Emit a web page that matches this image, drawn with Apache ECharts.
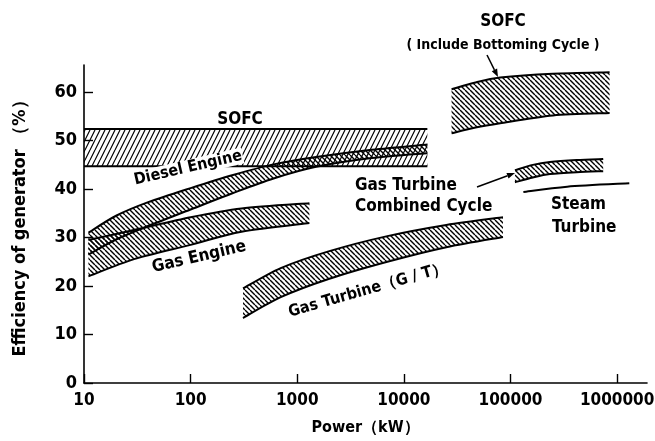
<!DOCTYPE html>
<html><head><meta charset="utf-8">
<script src="https://cdn.jsdelivr.net/npm/echarts@6/dist/echarts.min.js"></script>
<style>html,body{margin:0;padding:0;background:#fff}#c{width:655px;height:441px}</style>
</head><body><div id="c"></div><script>
// ---- data (power in kW, efficiency in %) ----
const xTickValues = [10, 100, 1000, 10000, 100000, 1000000];
const yTickValues = [0, 10, 20, 30, 40, 50, 60];

const sofcX = [10, 16600];
const sofcUpper = [52.4, 52.4];
const sofcLower = [44.7, 44.7];

const dieselX = [11, 20, 40, 100, 250, 600, 1500, 5000, 16600];
const dieselUpper = [31, 34.5, 37.3, 40.2, 42.9, 45.1, 46.6, 48.1, 49.2];
const dieselLower = [26.5, 29.6, 32.4, 35.8, 39.2, 42.2, 44.6, 46.4, 47.4];

const gasEngX = [11, 30, 100, 300, 1300];
const gasEngUpper = [29.5, 31.6, 34.2, 36, 37.1];
const gasEngLower = [22, 25.6, 28.5, 31.2, 33];

const gtX = [310, 700, 2000, 7000, 25000, 85000];
const gtUpper = [19.5, 23.7, 27.2, 30.3, 32.6, 34.2];
const gtLower = [13.4, 17.7, 21.5, 25, 28, 30.1];

const sofcBcX = [28000, 47000, 80000, 250000, 850000];
const sofcBcUpper = [60.6, 62.0, 63.0, 63.8, 64.1];
const sofcBcLower = [51.5, 52.7, 53.6, 55.2, 55.7];

const gtccX = [110000, 162000, 234000, 417000, 740000];
const gtccUpper = [43.9, 45.0, 45.6, 46.0, 46.2];
const gtccLower = [41.4, 42.4, 43.1, 43.5, 43.7];

const steamX = [132000, 340000, 1300000];
const steamY = [39.4, 40.5, 41.2];

// ---- styling helpers ----
const FONT = '"Liberation Sans Narrow","DejaVu Sans Condensed","Noto Sans",sans-serif';

function makeHatch(w, h, dir, lw) {
  const c = document.createElement('canvas');
  c.width = w; c.height = h;
  const ctx = c.getContext('2d');
  ctx.strokeStyle = '#000';
  ctx.lineWidth = lw;
  ctx.beginPath();
  for (let k = -1; k <= 1; k++) {
    const o = k * w;
    if (dir === 'back') { ctx.moveTo(o, 0); ctx.lineTo(o + w, h); }
    else { ctx.moveTo(o, h); ctx.lineTo(o + w, 0); }
  }
  ctx.stroke();
  return c;
}
const hatchBack = makeHatch(5, 5, 'back', 1.4);
const hatchFwd = makeHatch(5, 10, 'fwd', 1.2);

const bands = [
  { x: sofcX, up: sofcUpper, lo: sofcLower, hatch: hatchFwd },
  { x: dieselX, up: dieselUpper, lo: dieselLower, hatch: hatchBack },
  { x: gasEngX, up: gasEngUpper, lo: gasEngLower, hatch: hatchBack },
  { x: gtX, up: gtUpper, lo: gtLower, hatch: hatchBack },
  { x: sofcBcX, up: sofcBcUpper, lo: sofcBcLower, hatch: hatchBack },
  { x: gtccX, up: gtccUpper, lo: gtccLower, hatch: hatchBack },
  { x: steamX, up: steamY, lo: null, hatch: null }
];

// Catmull-Rom curve through pixel points -> SVG path segment
function curvePath(pts, move) {
  let d = (move ? 'M' : 'L') + pts[0][0] + ' ' + pts[0][1];
  for (let i = 0; i < pts.length - 1; i++) {
    const p0 = pts[Math.max(i - 1, 0)], p1 = pts[i], p2 = pts[i + 1], p3 = pts[Math.min(i + 2, pts.length - 1)];
    const t = 0.9 / 6;
    const c1 = [p1[0] + (p2[0] - p0[0]) * t, p1[1] + (p2[1] - p0[1]) * t];
    const c2 = [p2[0] - (p3[0] - p1[0]) * t, p2[1] - (p3[1] - p1[1]) * t];
    d += 'C' + c1[0] + ' ' + c1[1] + ' ' + c2[0] + ' ' + c2[1] + ' ' + p2[0] + ' ' + p2[1];
  }
  return d;
}

function renderBand(params, api) {
  const b = bands[params.dataIndex];
  const up = b.x.map(function (x, i) { return api.coord([Math.log10(x), b.up[i]]); });
  const children = [];
  if (b.lo) {
    const lo = b.x.map(function (x, i) { return api.coord([Math.log10(x), b.lo[i]]); });
    const loRev = lo.slice().reverse();
    const area = curvePath(up, true) + curvePath(loRev, false) + 'Z';
    children.push({
      type: 'path', shape: { pathData: area },
      style: { fill: { image: b.hatch, repeat: 'repeat' }, stroke: null }
    });
    children.push({ type: 'path', shape: { pathData: curvePath(lo, true) },
      style: { fill: null, stroke: '#000', lineWidth: 2 } });
  }
  children.push({ type: 'path', shape: { pathData: curvePath(up, true) },
    style: { fill: null, stroke: '#000', lineWidth: 2 } });
  return { type: 'group', children: children };
}

function txt(x, y, text, size, rotDeg, align, bg) {
  const st = {
    text: text, fontSize: size, fontWeight: 'bold', fontFamily: FONT, fill: '#000',
    align: align || 'center', verticalAlign: 'middle'
  };
  if (bg) { st.backgroundColor = '#fff'; st.padding = [0, 1]; }
  return { type: 'text', x: x, y: y, rotation: (rotDeg || 0) * Math.PI / 180, z: 100, style: st };
}
function arrow(x1, y1, x2, y2) {
  const a = Math.atan2(y2 - y1, x2 - x1), L = 8, W = 3;
  const bx = x2 - L * Math.cos(a), by = y2 - L * Math.sin(a);
  const px = -Math.sin(a) * W, py = Math.cos(a) * W;
  return [
    { type: 'line', z: 100, shape: { x1: x1, y1: y1, x2: bx, y2: by }, style: { stroke: '#000', lineWidth: 1.5 } },
    { type: 'polygon', z: 100, shape: { points: [[x2, y2], [bx + px, by + py], [bx - px, by - py]] }, style: { fill: '#000' } }
  ];
}

const graphics = [
  txt(240, 120, 'SOFC', 17, 0),
  txt(188, 168, 'Diesel Engine', 16, 13, 'center', true),
  txt(199, 257, 'Gas Engine', 17, 13),
  txt(368, 290, 'Gas Turbine（G / T）', 16, 16),
  txt(355, 186, 'Gas Turbine', 17, 0, 'left'),
  txt(355, 207, 'Combined Cycle', 17, 0, 'left'),
  txt(503, 22, 'SOFC', 17, 0),
  txt(503, 45, '( Include Bottoming Cycle )', 14, 0),
  txt(551, 205, 'Steam', 17, 0, 'left'),
  txt(552, 228, 'Turbine', 17, 0, 'left')
].concat(arrow(487, 55, 498, 77)).concat(arrow(477, 187, 515, 173));

const chart = echarts.init(document.getElementById('c'), null, { renderer: 'canvas' });
chart.setOption({
  animation: false,
  backgroundColor: '#fff',
  grid: { left: 84, right: 8, top: 65, bottom: 58, containLabel: false, outerBoundsMode: 'none' },
  xAxis: {
    type: 'value', min: 1, max: 6.28,
    name: 'Power（kW）', nameLocation: 'middle', nameGap: 37,
    nameTextStyle: { fontSize: 16, fontWeight: 'bold', fontFamily: FONT, color: '#000' },
    axisLine: { lineStyle: { color: '#000', width: 1.6 } },
    axisTick: { inside: true, length: 9, lineStyle: { color: '#000', width: 1.4 },
      customValues: xTickValues.map(function (v) { return Math.log10(v); }) },
    axisLabel: { fontSize: 17, fontWeight: 'bold', fontFamily: FONT, color: '#000', margin: 9,
      customValues: xTickValues.map(function (v) { return Math.log10(v); }),
      formatter: function (v) { return String(Math.round(Math.pow(10, v))); } },
    splitLine: { show: false }
  },
  yAxis: {
    type: 'value', min: 0, max: 65.6,
    name: 'Efficiency of generator （%）', nameLocation: 'middle', nameGap: 55,
    nameTextStyle: { fontSize: 18, fontWeight: 'bold', fontFamily: FONT, color: '#000' },
    axisLine: { show: true, lineStyle: { color: '#000', width: 1.6 } },
    axisTick: { show: true, inside: true, length: 9, lineStyle: { color: '#000', width: 1.4 }, customValues: yTickValues },
    axisLabel: { fontSize: 18, fontWeight: 'bold', fontFamily: FONT, color: '#000', margin: 7, customValues: yTickValues },
    splitLine: { show: false }
  },
  series: [{
    type: 'custom', name: 'bands', silent: true, clip: false,
    data: bands.map(function (b, i) { return [1, 0, i]; }),
    encode: { x: 0, y: 1 },
    renderItem: renderBand
  }],
  graphic: graphics
});
</script></body></html>
